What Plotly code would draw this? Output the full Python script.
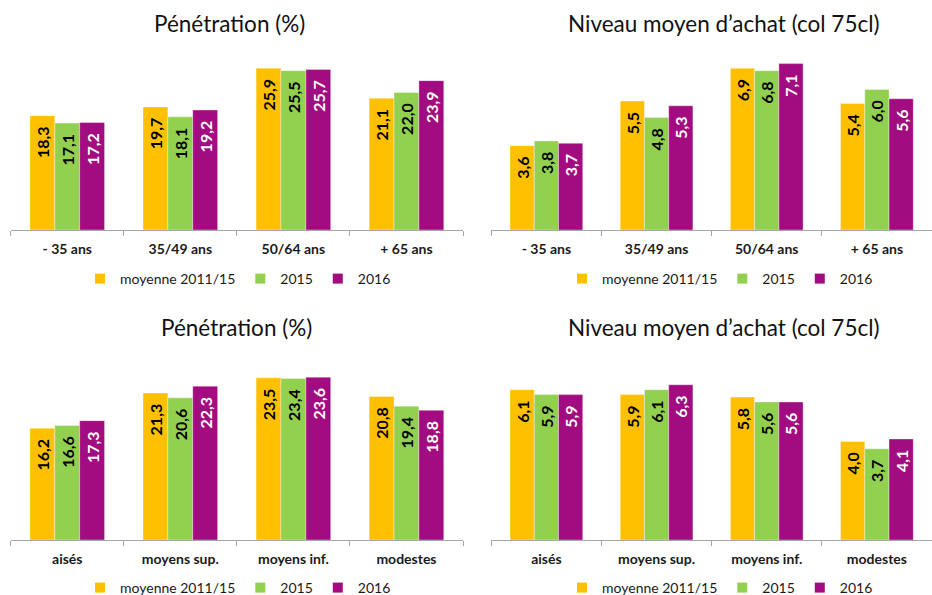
import plotly.graph_objects as go

# ---- data ----
age_cats = ["- 35 ans", "35/49 ans", "50/64 ans", "+ 65 ans"]
class_cats = ["aisés", "moyens sup.", "moyens inf.", "modestes"]
series_names = ["moyenne 2011/15", "2015", "2016"]

pen_age_moy = [18.3, 19.7, 25.9, 21.1]
pen_age_2015 = [17.1, 18.1, 25.5, 22.0]
pen_age_2016 = [17.2, 19.2, 25.7, 23.9]

ach_age_moy = [3.6, 5.5, 6.9, 5.4]
ach_age_2015 = [3.8, 4.8, 6.8, 6.0]
ach_age_2016 = [3.7, 5.3, 7.1, 5.6]

pen_cls_moy = [16.2, 21.3, 23.5, 20.8]
pen_cls_2015 = [16.6, 20.6, 23.4, 19.4]
pen_cls_2016 = [17.3, 22.3, 23.6, 18.8]

ach_cls_moy = [6.1, 5.9, 5.8, 4.0]
ach_cls_2015 = [5.9, 6.1, 5.6, 3.7]
ach_cls_2016 = [5.9, 6.3, 5.6, 4.1]

titles = ["Pénétration (%)", "Niveau moyen d’achat (col 75cl)",
          "Pénétration (%)", "Niveau moyen d’achat (col 75cl)"]

# ---- styling ----
colors = ["#FFC000", "#92D050", "#A20C80"]
label_colors = ["#000000", "#000000", "#FFFFFF"]
FONT = "Lato"
W, H = 932, 595

panels = [
    dict(cats=age_cats, series=[pen_age_moy, pen_age_2015, pen_age_2016], yr=30,
         x=(10.7, 463.0), y=(42.5, 230.0), title_xy=(229, 24), leg_xy=(238, 279)),
    dict(cats=age_cats, series=[ach_age_moy, ach_age_2015, ach_age_2016], yr=8,
         x=(491.3, 932.0), y=(42.5, 230.0), title_xy=(724, 24), leg_xy=(720, 279)),
    dict(cats=class_cats, series=[pen_cls_moy, pen_cls_2015, pen_cls_2016], yr=25,
         x=(10.7, 463.0), y=(367.5, 540.0), title_xy=(236, 327), leg_xy=(238, 588)),
    dict(cats=class_cats, series=[ach_cls_moy, ach_cls_2015, ach_cls_2016], yr=7,
         x=(491.3, 932.0), y=(367.5, 540.0), title_xy=(724, 327), leg_xy=(720, 588)),
]


def fmt(v):
    return f"{v:.1f}".replace(".", ",") + "\u00a0\u00a0"


fig = go.Figure()
layout = {}
annotations = []
for i, p in enumerate(panels):
    n = "" if i == 0 else str(i + 1)
    leg = "legend" + n
    for s, (name, vals) in enumerate(zip(series_names, p["series"])):
        fig.add_trace(go.Bar(
            x=p["cats"], y=vals, name=name,
            xaxis="x" + n, yaxis="y" + n,
            showlegend=False,
            marker=dict(color=colors[s], line=dict(color="rgba(255,255,255,0.45)", width=0.8)),
            text=[fmt(v) for v in vals],
            textposition="inside", insidetextanchor="end", textangle=-90,
            constraintext="none",
            insidetextfont=dict(family=FONT, size=16, color=label_colors[s], weight="bold"),
            hoverinfo="skip",
        ))
    # legend entries (square markers, no data points)
    for s, name in enumerate(series_names):
        fig.add_trace(go.Scatter(
            x=[None], y=[None], mode="markers", name=name,
            xaxis="x" + n, yaxis="y" + n, legend=leg, showlegend=True,
            marker=dict(symbol="square", size=10, color=colors[s]),
            hoverinfo="skip",
        ))
    layout["xaxis" + n] = dict(
        domain=[p["x"][0] / W, p["x"][1] / W], anchor="y" + n,
        showline=True, linecolor="#A6A6A6", linewidth=1,
        ticks="outside", tickson="boundaries", ticklen=5, tickcolor="#A6A6A6",
        tickfont=dict(family=FONT, size=14, color="#1a1a1a", weight="bold"),
        ticklabelstandoff=6, showgrid=False, zeroline=False, fixedrange=True,
    )
    layout["yaxis" + n] = dict(
        domain=[1 - p["y"][1] / H, 1 - p["y"][0] / H], anchor="x" + n,
        range=[0, p["yr"]], visible=False, showgrid=False, zeroline=False,
    )
    layout[leg] = dict(
        orientation="h", x=p["leg_xy"][0] / W, y=1 - p["leg_xy"][1] / H,
        xanchor="center", yanchor="middle",
        font=dict(family=FONT, size=14, color="#1a1a1a"),
        itemwidth=30, tracegroupgap=0, bgcolor="rgba(0,0,0,0)",
        itemclick=False, itemdoubleclick=False,
    )
    annotations.append(dict(
        text=titles[i], xref="paper", yref="paper",
        x=p["title_xy"][0] / W, y=1 - p["title_xy"][1] / H,
        xanchor="center", yanchor="middle", showarrow=False,
        font=dict(family=FONT, size=22.5, color="#111111"),
    ))

fig.update_layout(
    width=W, height=H, margin=dict(l=0, r=0, t=0, b=0, autoexpand=False),
    paper_bgcolor="white", plot_bgcolor="white",
    barmode="group", bargap=0.34, bargroupgap=0,
    annotations=annotations, showlegend=True,
    font=dict(family=FONT),
    **layout,
)

fig.write_html("out.html")
